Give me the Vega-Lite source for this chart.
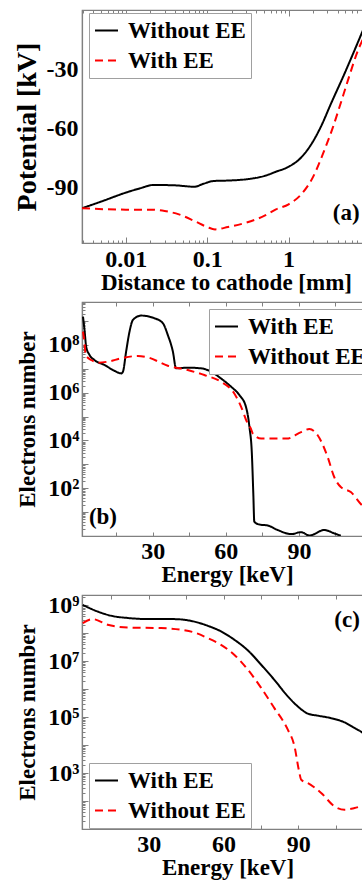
{
  "$schema": "https://vega.github.io/schema/vega-lite/v6.json",
  "padding": {"left": 12, "top": 8, "right": 0, "bottom": 0},
  "spacing": 5,
  "resolve": {
    "scale": {"color": "independent", "strokeDash": "independent"},
    "legend": {"color": "independent", "strokeDash": "independent"}
  },
  "datasets": {
    "a": [
      {"x": 0.0029, "y": -100.4, "series": "Without EE"},
      {"x": 0.005, "y": -97.0, "series": "Without EE"},
      {"x": 0.01, "y": -92.5, "series": "Without EE"},
      {"x": 0.015, "y": -90.3, "series": "Without EE"},
      {"x": 0.022, "y": -88.6, "series": "Without EE"},
      {"x": 0.04, "y": -88.8, "series": "Without EE"},
      {"x": 0.07, "y": -89.5, "series": "Without EE"},
      {"x": 0.09, "y": -88.0, "series": "Without EE"},
      {"x": 0.12, "y": -86.6, "series": "Without EE"},
      {"x": 0.2, "y": -86.3, "series": "Without EE"},
      {"x": 0.35, "y": -85.4, "series": "Without EE"},
      {"x": 0.5, "y": -84.1, "series": "Without EE"},
      {"x": 0.7, "y": -81.9, "series": "Without EE"},
      {"x": 1.0, "y": -79.4, "series": "Without EE"},
      {"x": 1.42, "y": -74.8, "series": "Without EE"},
      {"x": 2.0, "y": -66.5, "series": "Without EE"},
      {"x": 2.5, "y": -59.0, "series": "Without EE"},
      {"x": 3.31, "y": -47.5, "series": "Without EE"},
      {"x": 4.83, "y": -32.5, "series": "Without EE"},
      {"x": 6.41, "y": -20.7, "series": "Without EE"},
      {"x": 8.13, "y": -10.6, "series": "Without EE"},
      {"x": 10, "y": -2, "series": "Without EE"},
      {"x": 0.0029, "y": -100.4, "series": "With EE"},
      {"x": 0.01, "y": -101.1, "series": "With EE"},
      {"x": 0.02, "y": -101.1, "series": "With EE"},
      {"x": 0.03, "y": -101.8, "series": "With EE"},
      {"x": 0.045, "y": -103.5, "series": "With EE"},
      {"x": 0.07, "y": -106.9, "series": "With EE"},
      {"x": 0.1, "y": -109.9, "series": "With EE"},
      {"x": 0.125, "y": -111.1, "series": "With EE"},
      {"x": 0.18, "y": -109.9, "series": "With EE"},
      {"x": 0.3, "y": -107.7, "series": "With EE"},
      {"x": 0.5, "y": -104.3, "series": "With EE"},
      {"x": 0.7, "y": -101.0, "series": "With EE"},
      {"x": 1.0, "y": -98.4, "series": "With EE"},
      {"x": 1.42, "y": -93.5, "series": "With EE"},
      {"x": 2.0, "y": -84.5, "series": "With EE"},
      {"x": 2.75, "y": -71.0, "series": "With EE"},
      {"x": 3.49, "y": -59.6, "series": "With EE"},
      {"x": 4.2, "y": -49.4, "series": "With EE"},
      {"x": 5.33, "y": -35.9, "series": "With EE"},
      {"x": 7.08, "y": -20.7, "series": "With EE"},
      {"x": 8.2, "y": -14.5, "series": "With EE"},
      {"x": 10, "y": -5, "series": "With EE"}
    ],
    "b": [
      {"x": 1.4, "y": 1.55e9, "series": "With EE"},
      {"x": 2.1, "y": 3.63e8, "series": "With EE"},
      {"x": 2.7, "y": 8.51e7, "series": "With EE"},
      {"x": 4.1, "y": 3.8e7, "series": "With EE"},
      {"x": 6.1, "y": 2.34e7, "series": "With EE"},
      {"x": 10.2, "y": 1.45e7, "series": "With EE"},
      {"x": 14.3, "y": 8.32e6, "series": "With EE"},
      {"x": 17.1, "y": 6.46e6, "series": "With EE"},
      {"x": 17.8, "y": 7.59e6, "series": "With EE"},
      {"x": 19.1, "y": 5.25e7, "series": "With EE"},
      {"x": 20.5, "y": 3.63e8, "series": "With EE"},
      {"x": 21.9, "y": 1.12e9, "series": "With EE"},
      {"x": 25.3, "y": 1.7e9, "series": "With EE"},
      {"x": 30.7, "y": 1.32e9, "series": "With EE"},
      {"x": 34.2, "y": 8.13e8, "series": "With EE"},
      {"x": 36.2, "y": 2.63e8, "series": "With EE"},
      {"x": 38.3, "y": 5.25e7, "series": "With EE"},
      {"x": 39.6, "y": 1.05e7, "series": "With EE"},
      {"x": 44.4, "y": 1.12e7, "series": "With EE"},
      {"x": 49.9, "y": 1.05e7, "series": "With EE"},
      {"x": 54.0, "y": 7.59e6, "series": "With EE"},
      {"x": 58.0, "y": 3.98e6, "series": "With EE"},
      {"x": 62.2, "y": 1.78e6, "series": "With EE"},
      {"x": 65.6, "y": 7.94e5, "series": "With EE"},
      {"x": 68.3, "y": 2.51e5, "series": "With EE"},
      {"x": 69.7, "y": 3.72e4, "series": "With EE"},
      {"x": 70.7, "y": 2820, "series": "With EE"},
      {"x": 71.3, "y": 57.5, "series": "With EE"},
      {"x": 71.7, "y": 3.98, "series": "With EE"},
      {"x": 73.8, "y": 3.02, "series": "With EE"},
      {"x": 77.2, "y": 2.75, "series": "With EE"},
      {"x": 81.3, "y": 1.78, "series": "With EE"},
      {"x": 86.8, "y": 1.2, "series": "With EE"},
      {"x": 90.9, "y": 1.45, "series": "With EE"},
      {"x": 94.3, "y": 1.05, "series": "With EE"},
      {"x": 100.4, "y": 1.78, "series": "With EE"},
      {"x": 104.5, "y": 1.29, "series": "With EE"},
      {"x": 107.2, "y": 1.02, "series": "With EE"},
      {"x": 1.4, "y": 3.63e8, "series": "Without EE"},
      {"x": 2.1, "y": 1.0e8, "series": "Without EE"},
      {"x": 2.5, "y": 3.8e7, "series": "Without EE"},
      {"x": 4.8, "y": 2.34e7, "series": "Without EE"},
      {"x": 7.5, "y": 1.82e7, "series": "Without EE"},
      {"x": 11.6, "y": 2.0e7, "series": "Without EE"},
      {"x": 17.1, "y": 2.75e7, "series": "Without EE"},
      {"x": 23.9, "y": 3.47e7, "series": "Without EE"},
      {"x": 28.0, "y": 3.02e7, "series": "Without EE"},
      {"x": 36.2, "y": 1.35e7, "series": "Without EE"},
      {"x": 44.4, "y": 8.91e6, "series": "Without EE"},
      {"x": 51.2, "y": 5.5e6, "series": "Without EE"},
      {"x": 58.0, "y": 2.88e6, "series": "Without EE"},
      {"x": 63.5, "y": 9.33e5, "series": "Without EE"},
      {"x": 66.3, "y": 2.57e5, "series": "Without EE"},
      {"x": 69.0, "y": 5.13e4, "series": "Without EE"},
      {"x": 70.3, "y": 3.16e4, "series": "Without EE"},
      {"x": 71.1, "y": 1.95e4, "series": "Without EE"},
      {"x": 74.5, "y": 1.2e4, "series": "Without EE"},
      {"x": 85.0, "y": 1.2e4, "series": "Without EE"},
      {"x": 90.9, "y": 2.24e4, "series": "Without EE"},
      {"x": 94.3, "y": 3.02e4, "series": "Without EE"},
      {"x": 97.7, "y": 1.66e4, "series": "Without EE"},
      {"x": 101.8, "y": 2040, "series": "Without EE"},
      {"x": 104.5, "y": 295, "series": "Without EE"},
      {"x": 107.2, "y": 112, "series": "Without EE"},
      {"x": 111.3, "y": 69, "series": "Without EE"},
      {"x": 115.4, "y": 21.9, "series": "Without EE"},
      {"x": 120, "y": 7.9, "series": "Without EE"}
    ],
    "c": [
      {"x": 3.5, "y": 1.02e9, "series": "With EE"},
      {"x": 9.5, "y": 5.89e8, "series": "With EE"},
      {"x": 14.9, "y": 4.17e8, "series": "With EE"},
      {"x": 21.6, "y": 3.47e8, "series": "With EE"},
      {"x": 30.9, "y": 3.16e8, "series": "With EE"},
      {"x": 40.3, "y": 3.16e8, "series": "With EE"},
      {"x": 48.3, "y": 2.57e8, "series": "With EE"},
      {"x": 53.7, "y": 1.82e8, "series": "With EE"},
      {"x": 59.0, "y": 1.15e8, "series": "With EE"},
      {"x": 64.4, "y": 5.75e7, "series": "With EE"},
      {"x": 69.8, "y": 2.4e7, "series": "With EE"},
      {"x": 75.1, "y": 7.41e6, "series": "With EE"},
      {"x": 80.4, "y": 2.14e6, "series": "With EE"},
      {"x": 85.8, "y": 5.5e5, "series": "With EE"},
      {"x": 89.8, "y": 2.4e5, "series": "With EE"},
      {"x": 93.9, "y": 1.32e5, "series": "With EE"},
      {"x": 97.9, "y": 1.12e5, "series": "With EE"},
      {"x": 103.2, "y": 9.12e4, "series": "With EE"},
      {"x": 108.6, "y": 6.46e4, "series": "With EE"},
      {"x": 112.6, "y": 4.07e4, "series": "With EE"},
      {"x": 116.0, "y": 2.69e4, "series": "With EE"},
      {"x": 120.0, "y": 1.26e4, "series": "With EE"},
      {"x": 3.5, "y": 2.29e8, "series": "Without EE"},
      {"x": 7.5, "y": 3.16e8, "series": "Without EE"},
      {"x": 13.5, "y": 2.0e8, "series": "Without EE"},
      {"x": 21.6, "y": 1.58e8, "series": "Without EE"},
      {"x": 34.9, "y": 1.51e8, "series": "Without EE"},
      {"x": 43.0, "y": 1.32e8, "series": "Without EE"},
      {"x": 48.3, "y": 1.05e8, "series": "Without EE"},
      {"x": 53.7, "y": 6.61e7, "series": "Without EE"},
      {"x": 59.0, "y": 3.8e7, "series": "Without EE"},
      {"x": 64.4, "y": 1.66e7, "series": "Without EE"},
      {"x": 69.8, "y": 4.9e6, "series": "Without EE"},
      {"x": 75.1, "y": 1.1e6, "series": "Without EE"},
      {"x": 80.4, "y": 2.09e5, "series": "Without EE"},
      {"x": 85.8, "y": 3.55e4, "series": "Without EE"},
      {"x": 88.5, "y": 8910, "series": "Without EE"},
      {"x": 90.2, "y": 1320, "series": "Without EE"},
      {"x": 91.2, "y": 575, "series": "Without EE"},
      {"x": 93.9, "y": 437, "series": "Without EE"},
      {"x": 99.2, "y": 195, "series": "Without EE"},
      {"x": 104.5, "y": 64.6, "series": "Without EE"},
      {"x": 108.6, "y": 49, "series": "Without EE"},
      {"x": 112.6, "y": 56.2, "series": "Without EE"},
      {"x": 116.0, "y": 67.6, "series": "Without EE"},
      {"x": 120.0, "y": 79, "series": "Without EE"}
    ]
  },
  "vconcat": [
    {
      "width": 288,
      "height": 233,
      "data": {"name": "a"},
      "layer": [
        {
          "mark": {"type": "line", "strokeWidth": 2, "clip": true, "interpolate": "monotone"},
          "encoding": {
            "x": {
              "field": "x", "type": "quantitative",
              "scale": {"type": "log", "domain": [0.0029, 10], "nice": false},
              "title": "Distance to cathode [mm]",
              "axis": {
                "orient": "bottom",
                "tickCount": 1000,
                "values": [0.003,0.004,0.005,0.006,0.007,0.008,0.009,0.01,0.02,0.03,0.04,0.05,0.06,0.07,0.08,0.09,0.1,0.2,0.3,0.4,0.5,0.6,0.7,0.8,0.9,1,2,3,4,5,6,7,8,9,10],
                "labelExpr": "datum.value == 0.01 ? '0.01' : datum.value == 0.1 ? '0.1' : datum.value == 1 ? '1' : ''",
                "labelFontSize": {"condition": {"test": "datum.value == 0.01 || datum.value == 0.1 || datum.value == 1", "value": 24}, "value": 0},
                "tickSize": {"condition": {"test": "indexof([0.01,0.1,1,10], datum.value) >= 0", "value": -6}, "value": -3},
                "labelOverlap": false,
                "labelPadding": 10,
                "titlePadding": 0
              }
            },
            "y": {
              "field": "y", "type": "quantitative",
              "scale": {"domain": [-118, 0], "nice": false},
              "title": "Potential [kV]",
              "axis": {
                "tickCount": 1000,
                "values": [-90, -60, -30],
                "labelExpr": "datum.value == -30 ? '-30' : datum.value == -60 ? '-60' : datum.value == -90 ? '-90' : ''",
                "ticks": false,
                "labelAlign": "left",
                "labelOverlap": false,
                "labelPadding": 36,
                "titlePadding": 5,
                "titleFontSize": 28
              }
            },
            "color": {
              "field": "series", "type": "nominal",
              "scale": {"domain": ["Without EE", "With EE"], "range": ["#000000", "#ff0000"]},
              "legend": {"orient": "none", "legendX": 7, "legendY": 3}
            },
            "strokeDash": {
              "field": "series", "type": "nominal",
              "scale": {"domain": ["Without EE", "With EE"], "range": [[1, 0], [8, 5]]},
              "legend": {"orient": "none", "legendX": 7, "legendY": 3}
            }
          }
        },
        {
          "data": {"values": [{"label": "(a)"}]},
          "mark": {"type": "text", "fontSize": 23, "fontWeight": "bold", "font": "Liberation Serif", "align": "center", "baseline": "middle"},
          "encoding": {
            "x": {"datum": 5.1, "type": "quantitative",
              "axis": {"orient": "top", "labels": false, "title": null, "tickCount": 1000,
                "values": [0.003,0.004,0.005,0.006,0.007,0.008,0.009,0.01,0.02,0.03,0.04,0.05,0.06,0.07,0.08,0.09,0.1,0.2,0.3,0.4,0.5,0.6,0.7,0.8,0.9,1,2,3,4,5,6,7,8,9,10],
                "tickSize": {"condition": {"test": "indexof([0.01,0.1,1,10], datum.value) >= 0", "value": -6}, "value": -3}}},
            "y": {"datum": -103, "type": "quantitative"},
            "text": {"field": "label"}
          }
        }
      ],
      "resolve": {"axis": {"x": "independent"}}
    },
    {
      "width": 290,
      "height": 234,
      "data": {"name": "b"},
      "layer": [
        {
          "mark": {"type": "line", "strokeWidth": 2, "clip": true, "interpolate": "monotone"},
          "encoding": {
            "x": {
              "field": "x", "type": "quantitative",
              "scale": {"domain": [1, 120], "nice": false},
              "title": "Energy [keV]",
              "axis": {
                "orient": "bottom",
                "tickCount": 1000,
                "values": [15,30,45,60,75,90,105,120],
                "labelExpr": "datum.value == 30 ? '30' : datum.value == 60 ? '60' : datum.value == 90 ? '90' : ''",
                "labelFontSize": {"condition": {"test": "datum.value == 30 || datum.value == 60 || datum.value == 90", "value": 24}, "value": 0},
                "tickSize": -4,
                "labelOverlap": false,
                "labelPadding": 7,
                "titlePadding": 0
              }
            },
            "y": {
              "field": "y", "type": "quantitative",
              "scale": {"type": "log", "domain": [1, 6.3e9], "nice": false},
              "title": "Electrons number",
              "axis": {
                "tickCount": 1000,
                "values": [1,2,3,4,5,6,7,8,9,10,20,30,40,50,60,70,80,90,100,200,300,400,500,600,700,800,900,1000,2000,3000,4000,5000,6000,7000,8000,9000,1e4,2e4,3e4,4e4,5e4,6e4,7e4,8e4,9e4,1e5,2e5,3e5,4e5,5e5,6e5,7e5,8e5,9e5,1e6,2e6,3e6,4e6,5e6,6e6,7e6,8e6,9e6,1e7,2e7,3e7,4e7,5e7,6e7,7e7,8e7,9e7,1e8,2e8,3e8,4e8,5e8,6e8,7e8,8e8,9e8,1e9,2e9,3e9,4e9,5e9,6e9],
                "labelExpr": "datum.value == 100 ? '10²' : datum.value == 10000 ? '10⁴' : datum.value == 1000000 ? '10⁶' : datum.value == 100000000 ? '10⁸' : ''",
                "labelFontSize": {"condition": {"test": "indexof([100,10000,1000000,100000000], datum.value) >= 0", "value": 24}, "value": 0},
                "tickSize": {"condition": {"test": "indexof([1,10,100,1000,10000,100000,1000000,10000000,100000000,1000000000], datum.value) >= 0", "value": -6}, "value": -3},
                "labelOverlap": false,
                "labelPadding": 9,
                "titlePadding": 8
              }
            },
            "color": {
              "field": "series", "type": "nominal",
              "scale": {"domain": ["With EE", "Without EE"], "range": ["#000000", "#ff0000"]},
              "legend": {"orient": "none", "legendX": 127, "legendY": 7}
            },
            "strokeDash": {
              "field": "series", "type": "nominal",
              "scale": {"domain": ["With EE", "Without EE"], "range": [[1, 0], [8, 5]]},
              "legend": {"orient": "none", "legendX": 127, "legendY": 7}
            }
          }
        },
        {
          "data": {"values": [{"label": "(b)"}]},
          "mark": {"type": "text", "fontSize": 23, "fontWeight": "bold", "font": "Liberation Serif", "align": "center", "baseline": "middle"},
          "encoding": {
            "x": {"datum": 9.6, "type": "quantitative",
              "axis": {"orient": "top", "labels": false, "title": null, "tickCount": 1000, "values": [15,30,45,60,75,90,105,120], "tickSize": -4}},
            "y": {"datum": 6.1, "type": "quantitative"},
            "text": {"field": "label"}
          }
        }
      ],
      "resolve": {"axis": {"x": "independent"}}
    },
    {
      "width": 291,
      "height": 234,
      "data": {"name": "c"},
      "layer": [
        {
          "mark": {"type": "line", "strokeWidth": 2, "clip": true, "interpolate": "monotone"},
          "encoding": {
            "x": {
              "field": "x", "type": "quantitative",
              "scale": {"domain": [3.2, 120], "nice": false},
              "title": "Energy [keV]",
              "axis": {
                "orient": "bottom",
                "tickCount": 1000,
                "values": [15,30,45,60,75,90,105,120],
                "labelExpr": "datum.value == 30 ? '30' : datum.value == 60 ? '60' : datum.value == 90 ? '90' : ''",
                "labelFontSize": {"condition": {"test": "datum.value == 30 || datum.value == 60 || datum.value == 90", "value": 24}, "value": 0},
                "tickSize": -4,
                "labelOverlap": false,
                "labelPadding": 7,
                "titlePadding": 0
              }
            },
            "y": {
              "field": "y", "type": "quantitative",
              "scale": {"type": "log", "domain": [10, 2.3e9], "nice": false},
              "title": "Electrons number",
              "axis": {
                "tickCount": 1000,
                "values": [10,20,30,40,50,60,70,80,90,100,200,300,400,500,600,700,800,900,1000,2000,3000,4000,5000,6000,7000,8000,9000,1e4,2e4,3e4,4e4,5e4,6e4,7e4,8e4,9e4,1e5,2e5,3e5,4e5,5e5,6e5,7e5,8e5,9e5,1e6,2e6,3e6,4e6,5e6,6e6,7e6,8e6,9e6,1e7,2e7,3e7,4e7,5e7,6e7,7e7,8e7,9e7,1e8,2e8,3e8,4e8,5e8,6e8,7e8,8e8,9e8,1e9,2e9],
                "labelExpr": "datum.value == 1000 ? '10³' : datum.value == 100000 ? '10⁵' : datum.value == 10000000 ? '10⁷' : datum.value == 1000000000 ? '10⁹' : ''",
                "labelFontSize": {"condition": {"test": "indexof([1000,100000,10000000,1000000000], datum.value) >= 0", "value": 24}, "value": 0},
                "tickSize": {"condition": {"test": "indexof([10,100,1000,10000,100000,1000000,10000000,100000000,1000000000], datum.value) >= 0", "value": -6}, "value": -3},
                "labelOverlap": false,
                "labelPadding": 9,
                "titlePadding": 8
              }
            },
            "color": {
              "field": "series", "type": "nominal",
              "scale": {"domain": ["With EE", "Without EE"], "range": ["#000000", "#ff0000"]},
              "legend": {"orient": "none", "legendX": 7, "legendY": 168}
            },
            "strokeDash": {
              "field": "series", "type": "nominal",
              "scale": {"domain": ["With EE", "Without EE"], "range": [[1, 0], [8, 5]]},
              "legend": {"orient": "none", "legendX": 7, "legendY": 168}
            }
          }
        },
        {
          "data": {"values": [{"label": "(c)"}]},
          "mark": {"type": "text", "fontSize": 23, "fontWeight": "bold", "font": "Liberation Serif", "align": "center", "baseline": "middle"},
          "encoding": {
            "x": {"datum": 109.6, "type": "quantitative",
              "axis": {"orient": "top", "labels": false, "title": null, "tickCount": 1000, "values": [15,30,45,60,75,90,105,120], "tickSize": -4}},
            "y": {"datum": 2.9e8, "type": "quantitative"},
            "text": {"field": "label"}
          }
        }
      ],
      "resolve": {"axis": {"x": "independent"}}
    }
  ],
  "config": {
    "font": "Liberation Serif",
    "view": {"stroke": "#808080", "strokeWidth": 1.2},
    "axis": {
      "grid": false,
      "labelFont": "Liberation Serif", "labelFontWeight": "bold", "labelFontSize": 24, "labelColor": "#000000",
      "titleFont": "Liberation Serif", "titleFontWeight": "bold", "titleFontSize": 23, "titleColor": "#000000",
      "domainColor": "#808080", "domainWidth": 1.2, "tickColor": "#808080", "tickWidth": 1,
      "labelOverlap": false, "labelFlush": false, "labelBound": false
    },
    "legend": {
      "title": null,
      "strokeColor": "#a0a0a0", "fillColor": "#ffffff", "padding": 5,
      "labelFont": "Liberation Serif", "labelFontWeight": "bold", "labelFontSize": 23, "labelColor": "#000000",
      "symbolType": "stroke", "symbolSize": 529, "symbolStrokeWidth": 2, "rowPadding": 5, "labelOffset": 9,
      "labelLimit": 300
    }
  }
}
